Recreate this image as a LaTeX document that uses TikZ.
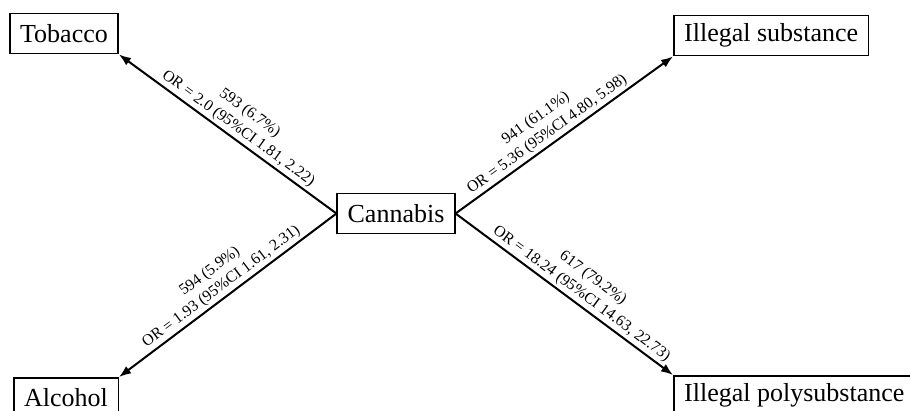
\documentclass[tikz,border=0pt]{standalone}
\usepackage{fontspec}
\setmainfont{Liberation Serif}
\usetikzlibrary{arrows.meta}

\begin{document}
\begin{tikzpicture}[x=0.5pt,y=-0.5pt,
    box/.style={draw,line width=0.75pt,inner xsep=5.2pt,minimum height=20pt,
        font=\fontsize{13}{15}\selectfont},
    link/.style={line width=1pt,-{Latex[length=6pt,width=4.5pt]}},
    stat/.style={sloped,above,inner sep=1.2pt,align=center,
        font=\fontsize{7.9}{9.6}\selectfont}]
    \useasboundingbox (0,0) rectangle (910,411);
    \clip (0,0) rectangle (910,411);
    % Draw the substance boxes
    \node[box] (can) at (396,213.5) {Cannabis};
    \node[box,anchor=north west] (tob) at (9,13) {Tobacco};
    \node[box,anchor=north west] (alc) at (13,377) {Alcohol};
    \node[box,anchor=north west] (ill) at (673,15) {Illegal substance};
    \node[box,anchor=north west] (poly) at (673,375) {Illegal polysubstance};
    % The links with counts and odds ratios
    \draw[link] (can.west) -- node[stat,pos=0.48] {593 (6.7\%)\\OR = 2.0 (95\%CI 1.81, 2.22)} (tob.south east);
    \draw[link] (can.west) -- node[stat,pos=0.5] {594 (5.9\%)\\OR = 1.93 (95\%CI 1.61, 2.31)} (alc.north east);
    \draw[link] (can.east) -- node[stat,pos=0.45] {941 (61.1\%)\\OR = 5.36 (95\%CI 4.80, 5.98)} (ill.south west);
    \draw[link] (can.east) -- node[stat,pos=0.55] {617 (79.2\%)\\OR = 18.24 (95\%CI 14.63, 22.73)} (poly.north west);
\end{tikzpicture}
\end{document}
